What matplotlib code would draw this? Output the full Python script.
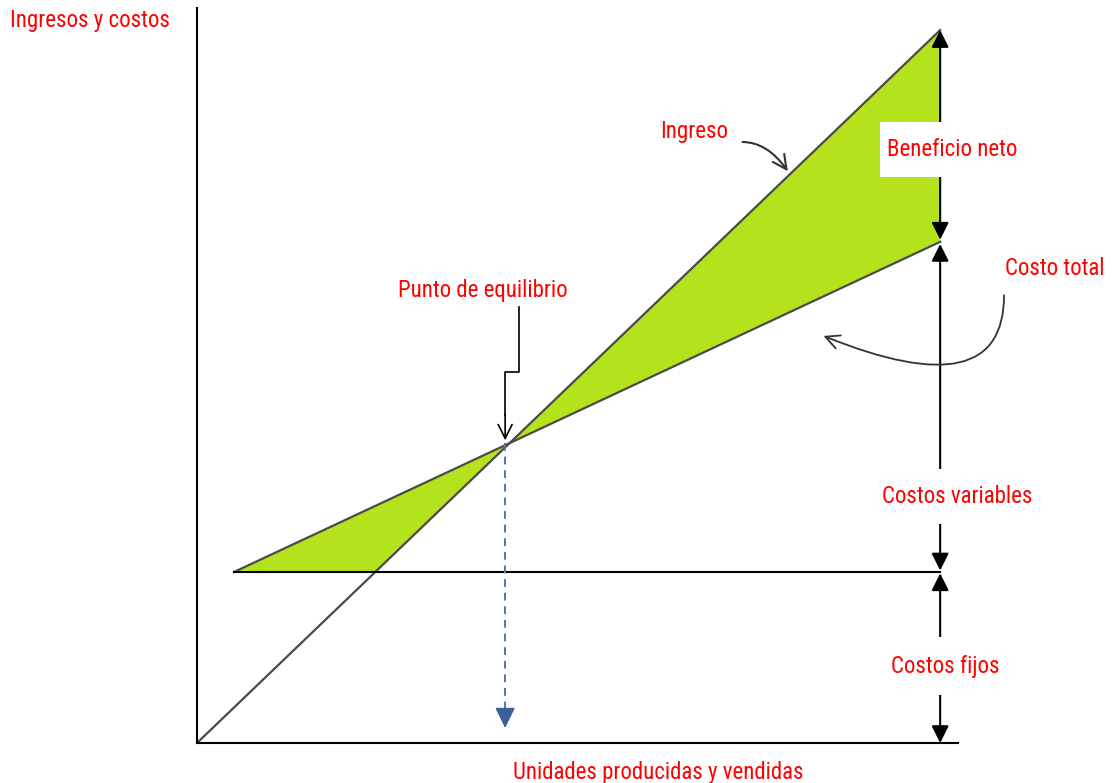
import numpy as np
import matplotlib.pyplot as plt
from matplotlib.patches import Rectangle
from matplotlib import font_manager

# ---- data (units 0..100, money 0..100) ----
unidades = [0, 100]
ingreso = [0, 100]
costo_unidades = [5, 100]
costo_total = [24, 70.3]
costo_fijo = 24

# pick a narrow font if the system has one
names = {f.name for f in font_manager.fontManager.ttflist}
narrow = [n for n in ['Liberation Sans Narrow', 'Roboto Condensed', 'Roboto'] if n in names]
plt.rcParams['font.family'] = narrow[:1] + ['DejaVu Sans']

red = '#ff0000'
green = '#b4e31e'
line_col = '#4a4a4a'
fs = 16.5

# revenue and total cost as straight lines
p_ing = np.polyfit(unidades, ingreso, 1)
p_cost = np.polyfit(costo_unidades, costo_total, 1)
q_be = (p_cost[1] - p_ing[1]) / (p_ing[0] - p_cost[0])
y_be = np.polyval(p_ing, q_be)
q_fijo = (costo_fijo - p_ing[1]) / p_ing[0]

fig = plt.figure(figsize=(11.12, 7.83), dpi=100)
ax = fig.add_axes([197 / 1112, 40 / 783, 761 / 1112, 735 / 783])
ax.set_xlim(0, 102.4)
ax.set_ylim(0, 103.1)
ax.spines['top'].set_visible(False)
ax.spines['right'].set_visible(False)
ax.spines['left'].set_linewidth(1.5)
ax.spines['bottom'].set_linewidth(1.5)
ax.set_xticks([])
ax.set_yticks([])

# loss zone (left of break-even) and profit zone (right of it)
ax.fill([costo_unidades[0], q_be, q_fijo], [costo_fijo, y_be, costo_fijo],
        color=green, lw=0, zorder=1)
ax.fill([q_be, unidades[1], costo_unidades[1]],
        [y_be, ingreso[1], costo_total[1]], color=green, lw=0, zorder=1)

ax.plot(unidades, ingreso, color=line_col, lw=1.6, zorder=2)
ax.plot(costo_unidades, costo_total, color=line_col, lw=1.6, zorder=2)
ax.plot([costo_unidades[0], unidades[1]], [costo_fijo, costo_fijo], color='k', lw=1.5, zorder=2)

# dimension arrows on the right side
head = dict(arrowstyle='-|>,head_length=0.4,head_width=0.2', color='k', lw=1.5,
            mutation_scale=26, shrinkA=0, shrinkB=0)
x_r = unidades[1]
dims = [
    (83, ingreso[1]), (83, costo_total[1] + 0.3),
    (34.6, costo_total[1] - 0.3), (34.6, costo_fijo + 0.2),
    (10.8, costo_fijo - 0.2), (10.8, 0),
]
for tail, tip in dims:
    ax.annotate('', xy=(x_r, tip), xytext=(x_r, tail), arrowprops=head,
                zorder=3, annotation_clip=False)

# white box behind "Beneficio neto"
ax.add_patch(Rectangle((91.9, 79.4), 18.9, 7.7, facecolor='white', edgecolor='none',
                       zorder=4, clip_on=False))
ax.text(101.6, 83.2, 'Beneficio neto', color=red, fontsize=fs, ha='center', va='center',
        zorder=5, clip_on=False)
ax.text(102.3, 34.6, 'Costos variables', color=red, fontsize=fs, ha='center', va='center',
        zorder=5, bbox=dict(boxstyle='square,pad=0.7', fc='white', ec='none'))
ax.text(100.7, 10.8, 'Costos fijos', color=red, fontsize=fs, ha='center', va='center',
        zorder=5, bbox=dict(boxstyle='square,pad=0.75', fc='white', ec='none'))

# break-even pointer
ax.plot([43.3, 43.3, q_be - 0.6, q_be - 0.6], [61.2, 52.0, 52.0, y_be + 4],
        color='k', lw=1.2, zorder=3)
ax.annotate('', xy=(q_be - 0.6, y_be + 0.4), xytext=(q_be - 0.6, y_be + 4),
            arrowprops=dict(arrowstyle='->,head_length=0.5,head_width=0.25', color='k',
                            lw=1.2, mutation_scale=20, shrinkA=0, shrinkB=0), zorder=3)
ax.text(38.4, 63.5, 'Punto de equilibrio', color=red, fontsize=fs, ha='center', va='center')

# dashed drop line to the units axis
ax.plot([q_be - 0.6, q_be - 0.6], [y_be, 4], color='#4f76ad', lw=1.4, ls=(0, (4, 3)), zorder=2)
ax.annotate('', xy=(q_be - 0.6, 2.1), xytext=(q_be - 0.6, 4.5),
            arrowprops=dict(arrowstyle='-|>,head_length=0.45,head_width=0.22', color='#3a619c',
                            lw=1.2, mutation_scale=28, shrinkA=0, shrinkB=0), zorder=3)

# curved pointers to the lines
ax.text(62.3, 85.8, 'Ingreso', color=red, fontsize=fs, ha='left', va='center')
ax.annotate('', xy=(79.5, 80.2), xytext=(73.4, 84.3),
            arrowprops=dict(arrowstyle='->,head_length=0.5,head_width=0.25', color='#333333',
                            lw=1.5, mutation_scale=20, shrinkA=0, shrinkB=0,
                            connectionstyle='angle3,angleA=0,angleB=-55'), zorder=3)
ax.text(108.7, 66.6, 'Costo total', color=red, fontsize=fs, ha='left', va='center', clip_on=False)
ax.annotate('', xy=(84.3, 57.1), xytext=(108.6, 62.8),
            arrowprops=dict(arrowstyle='->,head_length=0.5,head_width=0.25', color='#333333',
                            lw=1.3, mutation_scale=20, shrinkA=0, shrinkB=0,
                            connectionstyle='angle3,angleA=-90,angleB=-22'),
            zorder=3, annotation_clip=False)

# axis titles
fig.text(10 / 1112, 1 - 20 / 783, 'Ingresos y costos', color=red, fontsize=fs, ha='left', va='center')
fig.text(658 / 1112, 1 - 773 / 783, 'Unidades producidas y vendidas', color=red, fontsize=fs,
         ha='center', va='center')

plt.savefig('out.png', dpi=100)
